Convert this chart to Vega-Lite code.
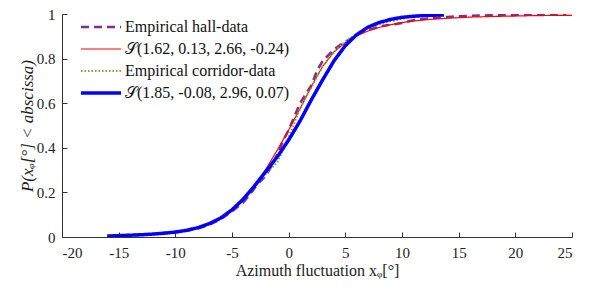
{
  "$schema": "https://vega.github.io/schema/vega-lite/v6.json",
  "autosize": "none",
  "width": 510,
  "height": 223,
  "padding": {"left": 62, "top": 14, "right": 20, "bottom": 53},
  "background": "white",
  "config": {
    "view": {"stroke": null},
    "font": "Liberation Serif",
    "axis": {"domainColor": "#333333", "tickColor": "#333333", "labelColor": "#222222", "titleColor": "#222222", "grid": false, "labelFont": "Liberation Serif", "titleFont": "Liberation Serif", "labelFontSize": 15, "titleFontSize": 16, "titleFontWeight": "normal"},
    "legend": {"labelLimit": 0}
  },
  "data": {"values": [
    {"s": "Empirical hall-data", "x": -16, "y": 0.003},
    {"s": "Empirical hall-data", "x": -14, "y": 0.008},
    {"s": "Empirical hall-data", "x": -12, "y": 0.013},
    {"s": "Empirical hall-data", "x": -10, "y": 0.022},
    {"s": "Empirical hall-data", "x": -9, "y": 0.028},
    {"s": "Empirical hall-data", "x": -8, "y": 0.038},
    {"s": "Empirical hall-data", "x": -7, "y": 0.055},
    {"s": "Empirical hall-data", "x": -6, "y": 0.08},
    {"s": "Empirical hall-data", "x": -5, "y": 0.115},
    {"s": "Empirical hall-data", "x": -4, "y": 0.155},
    {"s": "Empirical hall-data", "x": -3.5, "y": 0.185},
    {"s": "Empirical hall-data", "x": -3, "y": 0.22},
    {"s": "Empirical hall-data", "x": -2.5, "y": 0.25},
    {"s": "Empirical hall-data", "x": -2, "y": 0.275},
    {"s": "Empirical hall-data", "x": -1.5, "y": 0.32},
    {"s": "Empirical hall-data", "x": -1, "y": 0.37},
    {"s": "Empirical hall-data", "x": -0.5, "y": 0.43},
    {"s": "Empirical hall-data", "x": 0, "y": 0.48},
    {"s": "Empirical hall-data", "x": 0.5, "y": 0.54},
    {"s": "Empirical hall-data", "x": 1, "y": 0.6},
    {"s": "Empirical hall-data", "x": 1.5, "y": 0.64},
    {"s": "Empirical hall-data", "x": 2, "y": 0.68},
    {"s": "Empirical hall-data", "x": 2.5, "y": 0.745},
    {"s": "Empirical hall-data", "x": 3, "y": 0.79},
    {"s": "Empirical hall-data", "x": 3.5, "y": 0.815},
    {"s": "Empirical hall-data", "x": 4, "y": 0.84},
    {"s": "Empirical hall-data", "x": 4.5, "y": 0.86},
    {"s": "Empirical hall-data", "x": 5, "y": 0.875},
    {"s": "Empirical hall-data", "x": 5.5, "y": 0.89},
    {"s": "Empirical hall-data", "x": 6, "y": 0.905},
    {"s": "Empirical hall-data", "x": 6.5, "y": 0.92},
    {"s": "Empirical hall-data", "x": 7, "y": 0.93},
    {"s": "Empirical hall-data", "x": 7.5, "y": 0.935},
    {"s": "Empirical hall-data", "x": 8, "y": 0.945},
    {"s": "Empirical hall-data", "x": 8.5, "y": 0.948},
    {"s": "Empirical hall-data", "x": 9, "y": 0.952},
    {"s": "Empirical hall-data", "x": 9.5, "y": 0.955},
    {"s": "Empirical hall-data", "x": 10, "y": 0.96},
    {"s": "Empirical hall-data", "x": 10.5, "y": 0.966},
    {"s": "Empirical hall-data", "x": 11, "y": 0.972},
    {"s": "Empirical hall-data", "x": 12, "y": 0.978},
    {"s": "Empirical hall-data", "x": 13, "y": 0.983},
    {"s": "Empirical hall-data", "x": 14, "y": 0.987},
    {"s": "Empirical hall-data", "x": 15, "y": 0.99},
    {"s": "Empirical hall-data", "x": 16, "y": 0.992},
    {"s": "Empirical hall-data", "x": 17, "y": 0.993},
    {"s": "Empirical hall-data", "x": 18, "y": 0.995},
    {"s": "Empirical hall-data", "x": 19, "y": 0.995},
    {"s": "Empirical hall-data", "x": 20, "y": 0.996},
    {"s": "Empirical hall-data", "x": 21, "y": 0.997},
    {"s": "Empirical hall-data", "x": 22, "y": 0.998},
    {"s": "Empirical hall-data", "x": 23, "y": 0.999},
    {"s": "Empirical hall-data", "x": 24.5, "y": 1.0},

    {"s": "𝒮(1.62, 0.13, 2.66, -0.24)", "x": -16, "y": 0.006},
    {"s": "𝒮(1.62, 0.13, 2.66, -0.24)", "x": -15, "y": 0.008},
    {"s": "𝒮(1.62, 0.13, 2.66, -0.24)", "x": -14, "y": 0.01},
    {"s": "𝒮(1.62, 0.13, 2.66, -0.24)", "x": -13, "y": 0.012},
    {"s": "𝒮(1.62, 0.13, 2.66, -0.24)", "x": -12, "y": 0.015},
    {"s": "𝒮(1.62, 0.13, 2.66, -0.24)", "x": -11, "y": 0.019},
    {"s": "𝒮(1.62, 0.13, 2.66, -0.24)", "x": -10, "y": 0.024},
    {"s": "𝒮(1.62, 0.13, 2.66, -0.24)", "x": -9, "y": 0.031},
    {"s": "𝒮(1.62, 0.13, 2.66, -0.24)", "x": -8, "y": 0.042},
    {"s": "𝒮(1.62, 0.13, 2.66, -0.24)", "x": -7, "y": 0.058},
    {"s": "𝒮(1.62, 0.13, 2.66, -0.24)", "x": -6, "y": 0.082},
    {"s": "𝒮(1.62, 0.13, 2.66, -0.24)", "x": -5, "y": 0.117},
    {"s": "𝒮(1.62, 0.13, 2.66, -0.24)", "x": -4, "y": 0.165},
    {"s": "𝒮(1.62, 0.13, 2.66, -0.24)", "x": -3, "y": 0.228},
    {"s": "𝒮(1.62, 0.13, 2.66, -0.24)", "x": -2, "y": 0.305},
    {"s": "𝒮(1.62, 0.13, 2.66, -0.24)", "x": -1, "y": 0.39},
    {"s": "𝒮(1.62, 0.13, 2.66, -0.24)", "x": 0, "y": 0.48},
    {"s": "𝒮(1.62, 0.13, 2.66, -0.24)", "x": 1, "y": 0.575},
    {"s": "𝒮(1.62, 0.13, 2.66, -0.24)", "x": 2, "y": 0.675},
    {"s": "𝒮(1.62, 0.13, 2.66, -0.24)", "x": 3, "y": 0.765},
    {"s": "𝒮(1.62, 0.13, 2.66, -0.24)", "x": 4, "y": 0.83},
    {"s": "𝒮(1.62, 0.13, 2.66, -0.24)", "x": 5, "y": 0.872},
    {"s": "𝒮(1.62, 0.13, 2.66, -0.24)", "x": 6, "y": 0.902},
    {"s": "𝒮(1.62, 0.13, 2.66, -0.24)", "x": 7, "y": 0.924},
    {"s": "𝒮(1.62, 0.13, 2.66, -0.24)", "x": 8, "y": 0.94},
    {"s": "𝒮(1.62, 0.13, 2.66, -0.24)", "x": 9, "y": 0.952},
    {"s": "𝒮(1.62, 0.13, 2.66, -0.24)", "x": 10, "y": 0.962},
    {"s": "𝒮(1.62, 0.13, 2.66, -0.24)", "x": 11, "y": 0.968},
    {"s": "𝒮(1.62, 0.13, 2.66, -0.24)", "x": 12, "y": 0.974},
    {"s": "𝒮(1.62, 0.13, 2.66, -0.24)", "x": 14, "y": 0.981},
    {"s": "𝒮(1.62, 0.13, 2.66, -0.24)", "x": 16, "y": 0.986},
    {"s": "𝒮(1.62, 0.13, 2.66, -0.24)", "x": 18, "y": 0.989},
    {"s": "𝒮(1.62, 0.13, 2.66, -0.24)", "x": 20, "y": 0.991},
    {"s": "𝒮(1.62, 0.13, 2.66, -0.24)", "x": 22, "y": 0.993},
    {"s": "𝒮(1.62, 0.13, 2.66, -0.24)", "x": 25, "y": 0.994},

    {"s": "Empirical corridor-data", "x": -16, "y": 0.003},
    {"s": "Empirical corridor-data", "x": -14, "y": 0.007},
    {"s": "Empirical corridor-data", "x": -12, "y": 0.012},
    {"s": "Empirical corridor-data", "x": -10, "y": 0.02},
    {"s": "Empirical corridor-data", "x": -9, "y": 0.03},
    {"s": "Empirical corridor-data", "x": -8, "y": 0.04},
    {"s": "Empirical corridor-data", "x": -7, "y": 0.058},
    {"s": "Empirical corridor-data", "x": -6, "y": 0.083},
    {"s": "Empirical corridor-data", "x": -5, "y": 0.12},
    {"s": "Empirical corridor-data", "x": -4, "y": 0.165},
    {"s": "Empirical corridor-data", "x": -3.5, "y": 0.195},
    {"s": "Empirical corridor-data", "x": -3, "y": 0.225},
    {"s": "Empirical corridor-data", "x": -2.5, "y": 0.255},
    {"s": "Empirical corridor-data", "x": -2, "y": 0.285},
    {"s": "Empirical corridor-data", "x": -1.5, "y": 0.31},
    {"s": "Empirical corridor-data", "x": -1, "y": 0.335},
    {"s": "Empirical corridor-data", "x": -0.5, "y": 0.39},
    {"s": "Empirical corridor-data", "x": 0, "y": 0.45},
    {"s": "Empirical corridor-data", "x": 0.5, "y": 0.51},
    {"s": "Empirical corridor-data", "x": 1, "y": 0.575},
    {"s": "Empirical corridor-data", "x": 1.5, "y": 0.625},
    {"s": "Empirical corridor-data", "x": 2, "y": 0.67},
    {"s": "Empirical corridor-data", "x": 2.5, "y": 0.72},
    {"s": "Empirical corridor-data", "x": 3, "y": 0.765},
    {"s": "Empirical corridor-data", "x": 3.5, "y": 0.8},
    {"s": "Empirical corridor-data", "x": 4, "y": 0.83},
    {"s": "Empirical corridor-data", "x": 4.5, "y": 0.855},
    {"s": "Empirical corridor-data", "x": 5, "y": 0.875},
    {"s": "Empirical corridor-data", "x": 5.5, "y": 0.895},
    {"s": "Empirical corridor-data", "x": 6, "y": 0.91},
    {"s": "Empirical corridor-data", "x": 6.5, "y": 0.925},
    {"s": "Empirical corridor-data", "x": 7, "y": 0.94},
    {"s": "Empirical corridor-data", "x": 8, "y": 0.955},
    {"s": "Empirical corridor-data", "x": 9, "y": 0.968},
    {"s": "Empirical corridor-data", "x": 10, "y": 0.978},
    {"s": "Empirical corridor-data", "x": 11, "y": 0.99},
    {"s": "Empirical corridor-data", "x": 12, "y": 1.0},

    {"s": "𝒮(1.85, -0.08, 2.96, 0.07)", "x": -16, "y": 0.004},
    {"s": "𝒮(1.85, -0.08, 2.96, 0.07)", "x": -15, "y": 0.006},
    {"s": "𝒮(1.85, -0.08, 2.96, 0.07)", "x": -14, "y": 0.008},
    {"s": "𝒮(1.85, -0.08, 2.96, 0.07)", "x": -13, "y": 0.01},
    {"s": "𝒮(1.85, -0.08, 2.96, 0.07)", "x": -12, "y": 0.013},
    {"s": "𝒮(1.85, -0.08, 2.96, 0.07)", "x": -11, "y": 0.017},
    {"s": "𝒮(1.85, -0.08, 2.96, 0.07)", "x": -10, "y": 0.022},
    {"s": "𝒮(1.85, -0.08, 2.96, 0.07)", "x": -9, "y": 0.03},
    {"s": "𝒮(1.85, -0.08, 2.96, 0.07)", "x": -8, "y": 0.042},
    {"s": "𝒮(1.85, -0.08, 2.96, 0.07)", "x": -7, "y": 0.06},
    {"s": "𝒮(1.85, -0.08, 2.96, 0.07)", "x": -6, "y": 0.085},
    {"s": "𝒮(1.85, -0.08, 2.96, 0.07)", "x": -5, "y": 0.122},
    {"s": "𝒮(1.85, -0.08, 2.96, 0.07)", "x": -4, "y": 0.17},
    {"s": "𝒮(1.85, -0.08, 2.96, 0.07)", "x": -3, "y": 0.23},
    {"s": "𝒮(1.85, -0.08, 2.96, 0.07)", "x": -2, "y": 0.295},
    {"s": "𝒮(1.85, -0.08, 2.96, 0.07)", "x": -1, "y": 0.36},
    {"s": "𝒮(1.85, -0.08, 2.96, 0.07)", "x": 0, "y": 0.435},
    {"s": "𝒮(1.85, -0.08, 2.96, 0.07)", "x": 1, "y": 0.52},
    {"s": "𝒮(1.85, -0.08, 2.96, 0.07)", "x": 2, "y": 0.615},
    {"s": "𝒮(1.85, -0.08, 2.96, 0.07)", "x": 3, "y": 0.705},
    {"s": "𝒮(1.85, -0.08, 2.96, 0.07)", "x": 4, "y": 0.79},
    {"s": "𝒮(1.85, -0.08, 2.96, 0.07)", "x": 5, "y": 0.858},
    {"s": "𝒮(1.85, -0.08, 2.96, 0.07)", "x": 6, "y": 0.907},
    {"s": "𝒮(1.85, -0.08, 2.96, 0.07)", "x": 7, "y": 0.941},
    {"s": "𝒮(1.85, -0.08, 2.96, 0.07)", "x": 8, "y": 0.962},
    {"s": "𝒮(1.85, -0.08, 2.96, 0.07)", "x": 9, "y": 0.976},
    {"s": "𝒮(1.85, -0.08, 2.96, 0.07)", "x": 10, "y": 0.985},
    {"s": "𝒮(1.85, -0.08, 2.96, 0.07)", "x": 11, "y": 0.99},
    {"s": "𝒮(1.85, -0.08, 2.96, 0.07)", "x": 12, "y": 0.993},
    {"s": "𝒮(1.85, -0.08, 2.96, 0.07)", "x": 13, "y": 0.995},
    {"s": "𝒮(1.85, -0.08, 2.96, 0.07)", "x": 13.7, "y": 0.996}
  ]},
  "mark": {"type": "line", "clip": true},
  "encoding": {
    "x": {"field": "x", "type": "quantitative", "scale": {"domain": [-20, 25], "nice": false, "zero": false},
      "axis": {"values": [-20, -15, -10, -5, 0, 5, 10, 15, 20, 25], "labelExpr": "'' + datum.value", "tickSize": -5, "labelPadding": 13, "labelFont": "Liberation Serif", "title": "Azimuth fluctuation xᵩ[°]", "titlePadding": 2}},
    "y": {"field": "y", "type": "quantitative", "scale": {"domain": [0, 1], "nice": false},
      "axis": {"values": [0, 0.2, 0.4, 0.6, 0.8, 1], "format": "~g", "tickSize": -5, "labelPadding": 12, "labelFont": "Liberation Serif", "title": "P(xᵩ[°] < abscissa)", "titleFontStyle": "italic", "titleFontSize": 17, "titlePadding": 0}},
    "color": {"field": "s", "type": "nominal", "sort": null,
      "scale": {"domain": ["Empirical hall-data", "𝒮(1.62, 0.13, 2.66, -0.24)", "Empirical corridor-data", "𝒮(1.85, -0.08, 2.96, 0.07)"], "range": ["#7E2F8E", "#FF0000", "#77AC30", "#0000FF"]},
      "legend": {"title": null, "orient": "none", "legendX": 31, "legendY": 5, "symbolType": "M-4,0H4", "symbolSize": 100, "labelFont": "Liberation Serif", "labelFontSize": 16, "labelColor": "#111111", "labelOffset": 16, "rowPadding": 6, "labelLimit": 0}},
    "strokeDash": {"field": "s", "type": "nominal", "sort": null,
      "scale": {"domain": ["Empirical hall-data", "𝒮(1.62, 0.13, 2.66, -0.24)", "Empirical corridor-data", "𝒮(1.85, -0.08, 2.96, 0.07)"], "range": [[8, 5], [1, 0], [1.5, 2], [1, 0]]},
      "legend": {"title": null, "orient": "none", "legendX": 31, "legendY": 5, "symbolType": "M-4,0H4", "symbolSize": 100, "labelFont": "Liberation Serif", "labelFontSize": 16, "labelOffset": 16, "rowPadding": 6, "labelLimit": 0}},
    "strokeWidth": {"field": "s", "type": "nominal", "sort": null,
      "scale": {"type": "ordinal", "domain": ["Empirical hall-data", "𝒮(1.62, 0.13, 2.66, -0.24)", "Empirical corridor-data", "𝒮(1.85, -0.08, 2.96, 0.07)"], "range": [2.5, 1.2, 2, 3.5]},
      "legend": {"title": null, "orient": "none", "legendX": 31, "legendY": 5, "symbolType": "M-4,0H4", "symbolSize": 100, "labelFont": "Liberation Serif", "labelFontSize": 16, "labelOffset": 16, "rowPadding": 6, "labelLimit": 0}},
    "order": {"field": "x", "type": "quantitative"}
  }
}
